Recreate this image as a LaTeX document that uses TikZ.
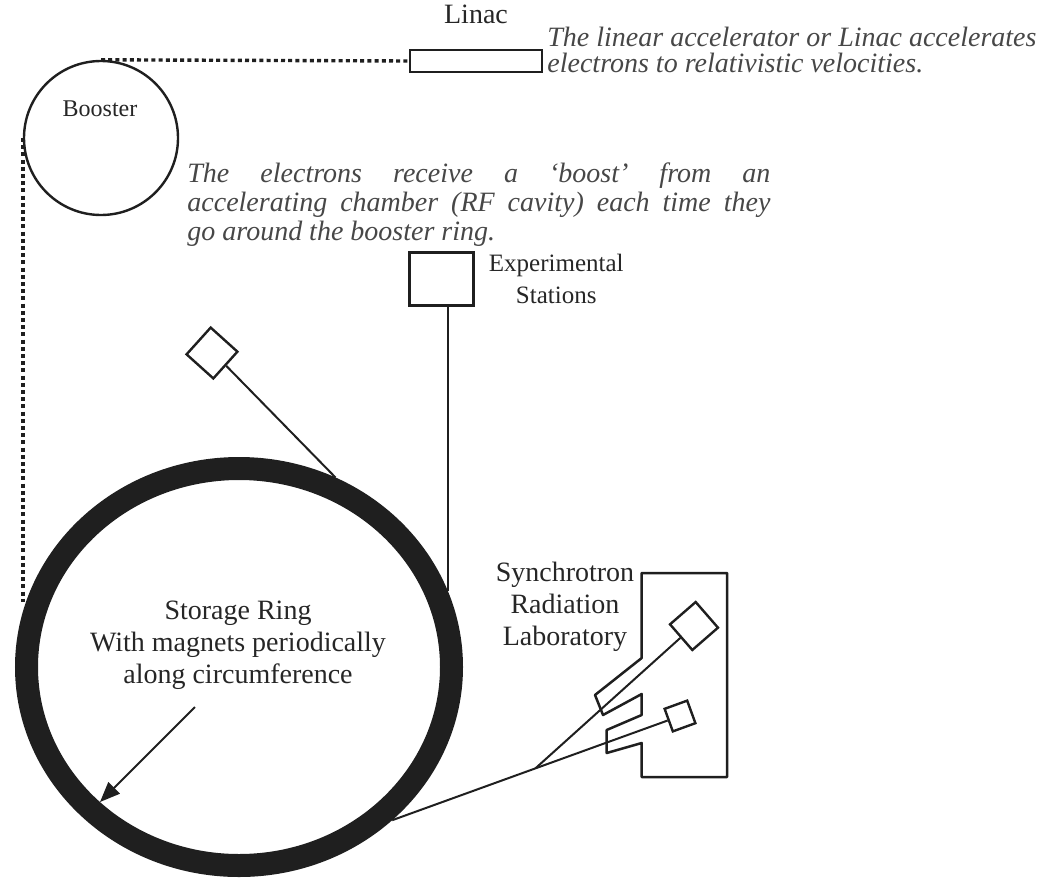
\documentclass[tikz,border=0pt]{standalone}
\usepackage{fontspec}
\setmainfont{Liberation Serif}
\usetikzlibrary{positioning, shapes.geometric, arrows.meta, calc}

\begin{document}
\begin{tikzpicture}[x=0.5pt, y=-0.5pt, color=black!88]
    \tikzset{
        txt/.style={font=\fontsize{14}{16}\selectfont, text=black!85, inner sep=0pt, align=center},
        note/.style={font=\fontsize{14}{13}\selectfont\itshape, text=black!72, inner sep=0pt, align=left},
        station/.style={draw, line width=1.2pt, inner sep=0pt, minimum size=#1},
        beam/.style={line width=1pt},
        feed/.style={line width=1.7pt, dash pattern=on 2pt off 1.6pt}
    }
    \useasboundingbox (0,0) rectangle (1043,878);

    % storage ring
    \node[ellipse, draw, line width=11.5pt, minimum width=212.5pt, minimum height=198.5pt, inner sep=0pt] (ring) at (239,667) {};
    \node[txt] (ringtext) at (238,645) {Storage Ring\\With magnets periodically\\along circumference};
    \coordinate (arrowtail) at (195,707);
    \coordinate (arrowtip) at (100,802);
    \draw[beam, -{Triangle[length=10pt, width=8pt]}] (arrowtail) -- (arrowtip);

    % booster and linac
    \node[circle, draw, line width=1.2pt, minimum size=77pt, inner sep=0pt] (booster) at (101,138) {};
    \node[txt, font=\fontsize{12}{14}\selectfont] (boosterlabel) at (100,109) {Booster};
    \node[draw, line width=1.4pt, minimum width=66pt, minimum height=11pt, inner sep=0pt] (linac) at (476,61) {};
    \node[txt, above=12pt of linac] (linaclabel) {Linac};
    \node[note, anchor=west] (linacnote) at (547,50) {The linear accelerator or Linac accelerates\\electrons to relativistic velocities.};
    \node[note, font=\fontsize{14}{14.5}\selectfont\itshape, text width=291.5pt, align=justify, anchor=north west] (boosternote) at (187,162)
        {\hyphenpenalty=10000 The electrons receive a `boost' from an\linebreak accelerating chamber (RF cavity) each time they\linebreak go around the booster ring.};

    \draw[feed] (booster.north) -- (linac.west);
    \draw[feed] (booster.west) -- (booster.west |- ring.163);

    % experimental stations
    \node[draw, line width=1.5pt, minimum width=32pt, minimum height=26.5pt, inner sep=0pt] (expbox) at (441,279) {};
    \node[txt, font=\fontsize{12.5}{16}\selectfont, right=7pt of expbox] (explabel) {Experimental\\Stations};
    \draw[beam] (ring.20) -- (ring.20 |- expbox.south);

    \node[station=18pt, rotate=-42] (sta) at (212,353) {};
    \draw[beam] (sta.east) -- (ring.63);

    % synchrotron radiation laboratory
    \node[txt] (lablabel) at (565,607) {Synchrotron\\Radiation\\Laboratory};
    \draw[line width=1.25pt, line join=round] (641.7,573) -- (727,573) -- (727,777) -- (641.7,777) -- (641.7,743) -- (606.7,753)
        -- (606.7,730) -- (641.7,715) -- (641.7,694) -- (603,715) -- (595,695) -- (641.7,658) -- cycle;
    \node[station=12pt, rotate=20] (labsmall) at (680,716) {};
    \node[station=17pt, rotate=41] (labbig) at (694,626) {};
    \draw[beam] (ring.-45) -- (labsmall.west);
    \coordinate (branch) at ($(ring.-45)!0.52!(labsmall.west)$);
    \draw[beam] (branch) -- (labbig.west);
\end{tikzpicture}
\end{document}
